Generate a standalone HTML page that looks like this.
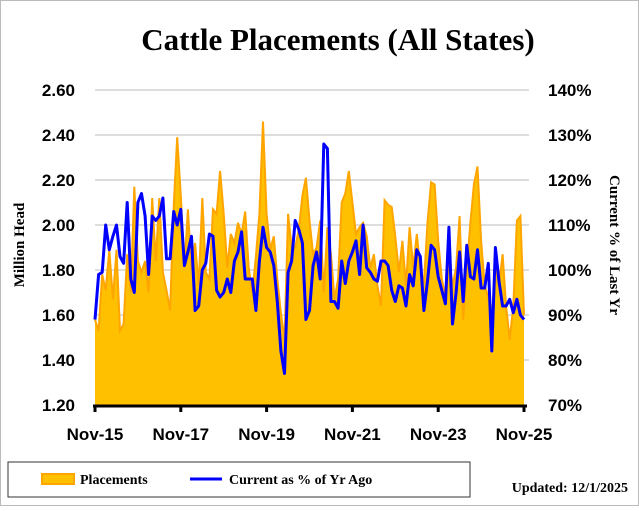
<!DOCTYPE html>
<html><head><meta charset="utf-8"><style>
body{margin:0;background:#fff}
svg text{font-family:"Liberation Serif",serif;font-weight:bold}
.s{font-family:"Liberation Sans",sans-serif;font-weight:bold}
</style></head><body>
<svg id="c" width="639" height="506" viewBox="0 0 639 506" xmlns="http://www.w3.org/2000/svg">
<rect x="0.5" y="0.5" width="638" height="505" fill="#fff" stroke="#bbb"/>
<text x="338" y="50" font-size="31" text-anchor="middle">Cattle Placements (All States)</text>
<g id="grid"></g><g id="series"></g><g id="axes"></g>
<text transform="translate(24,245) rotate(-90)" font-size="15" text-anchor="middle">Million Head</text>
<text transform="translate(610,245) rotate(90)" font-size="15" text-anchor="middle">Current % of Last Yr</text>
<rect x="8" y="462" width="462" height="35" fill="#fff" stroke="#333"/>
<rect x="42" y="474" width="32" height="10" fill="#FFC000" stroke="#FFA500" stroke-width="2"/>
<text x="80" y="484" font-size="14">Placements</text>
<line x1="190" y1="479" x2="222" y2="479" stroke="#0000FF" stroke-width="3"/>
<text x="229" y="484" font-size="14">Current as % of Yr Ago</text>
<text x="628" y="492" font-size="14" text-anchor="end">Updated: 12/1/2025</text>
</svg>
<script>
const placements=[1.58,1.53,1.78,1.71,1.89,1.67,1.89,1.53,1.56,1.87,1.70,2.17,1.84,1.79,1.84,1.70,2.12,1.84,2.12,1.79,1.71,1.62,2.08,2.39,2.13,1.81,2.07,1.80,1.92,1.73,2.12,1.79,1.76,2.07,2.05,2.24,2.05,1.81,1.96,1.92,2.01,1.96,2.06,1.81,1.70,1.86,2.05,2.46,2.05,1.89,1.95,1.76,1.61,1.49,2.05,1.90,1.90,1.98,2.13,2.21,2.02,1.87,1.90,2.02,1.70,1.99,1.87,1.67,1.76,2.10,2.14,2.24,2.10,1.96,1.99,2.01,1.95,1.81,1.87,1.73,1.64,2.11,2.09,2.08,1.95,1.79,1.93,1.73,1.99,1.81,1.96,1.81,1.74,2.01,2.19,2.18,1.93,1.76,1.68,1.86,1.73,1.81,2.04,1.58,1.81,2.01,2.18,2.26,1.93,1.73,1.68,1.58,1.83,1.73,1.87,1.64,1.49,1.64,2.02,2.04,1.60];
const pctYrAgo=[89,99,99.5,110,104.5,107.5,110,103,101.5,115,98,95,115,117,112,99,112,111,112,116,102.5,102.5,113,110,113.5,101,104,107.5,91,92,100,101.5,108,107.5,95.5,94,95,98,95,102,104,108.5,98,98,98,91,102,109.5,105,104,101,93,82,77,99.5,102,111,109,106,89,91,101,104,98,128,127,93,93,91.5,102,97,102,104,106.5,99,110,100.5,99.5,98,97.5,102,102,101,95.5,93,96.5,96,92,99,96.5,104.5,103,91,97.5,105.5,104.5,98.5,95.5,92.5,109.5,88,95,104,93,105.5,98.5,98,104.5,96,96,101.5,82,105,97.5,92,92,93.5,90.5,93.5,90,89];
const leftTicks=["1.20","1.40","1.60","1.80","2.00","2.20","2.40","2.60"];
const rightTicks=["70%","80%","90%","100%","110%","120%","130%","140%"];
const xTickLabels=["Nov-15","Nov-17","Nov-19","Nov-21","Nov-23","Nov-25"];
const NS="http://www.w3.org/2000/svg";
const X0=95,X1=524,Y0=405,Y1=90;
const xs=i=>X0+(X1-X0)*i/(placements.length-1);
const yl=v=>Y0-(v-1.2)/1.4*(Y0-Y1);
const yr=p=>Y0-(p-70)/70*(Y0-Y1);
function mk(tag,attrs,parent){const e=document.createElementNS(NS,tag);for(const k in attrs)e.setAttribute(k,attrs[k]);parent.appendChild(e);return e;}
const grid=document.getElementById('grid'),ser=document.getElementById('series'),ax=document.getElementById('axes');
leftTicks.forEach((t,i)=>{const v=parseFloat(t);const y=yl(v);
 if(i>0){const g=mk('line',{x1:X0,x2:X1+5,y1:y,y2:y,stroke:'#bbb','stroke-width':1},grid);
 
 }
 const tx=mk('text',{x:75,y:y+6,'font-size':17,'text-anchor':'end',class:'s'},ax);tx.textContent=t;
 
 });
rightTicks.forEach((t,i)=>{const y=yr(parseFloat(t));
 const tx=mk('text',{x:548,y:y+6,'font-size':17,class:'s'},ax);tx.textContent=t;
 
 });
let d='M'+xs(0)+','+Y0;placements.forEach((v,i)=>d+=' L'+xs(i).toFixed(1)+','+yl(v).toFixed(1));d+=' L'+xs(placements.length-1)+','+Y0+' Z';
const area=mk('path',{d:d,fill:'#FFC000',stroke:'none'},ser);


const pl=mk('polyline',{points:placements.map((v,i)=>xs(i).toFixed(1)+','+yl(v).toFixed(1)).join(' '),fill:'none',stroke:'#FFA500','stroke-width':2},ser);


const bl=mk('polyline',{points:pctYrAgo.map((v,i)=>xs(i).toFixed(1)+','+yr(v).toFixed(1)).join(' '),fill:'none',stroke:'#0000FF','stroke-width':3,'stroke-linejoin':'round'},ser);


const axl=mk('line',{x1:X0-2,x2:X1+3,y1:Y0+1,y2:Y0+1,stroke:'#000','stroke-width':3},ax);


xTickLabels.forEach((t,k)=>{const x=xs(k*24);
 const tk=mk('line',{x1:x,x2:x,y1:Y0,y2:Y0+7,stroke:'#000','stroke-width':3},ax);
 
 
 const tx=mk('text',{x:x,y:440,'font-size':17,'text-anchor':'middle',class:'s'},ax);tx.textContent=t;
 
 });
</script>
</body></html>
